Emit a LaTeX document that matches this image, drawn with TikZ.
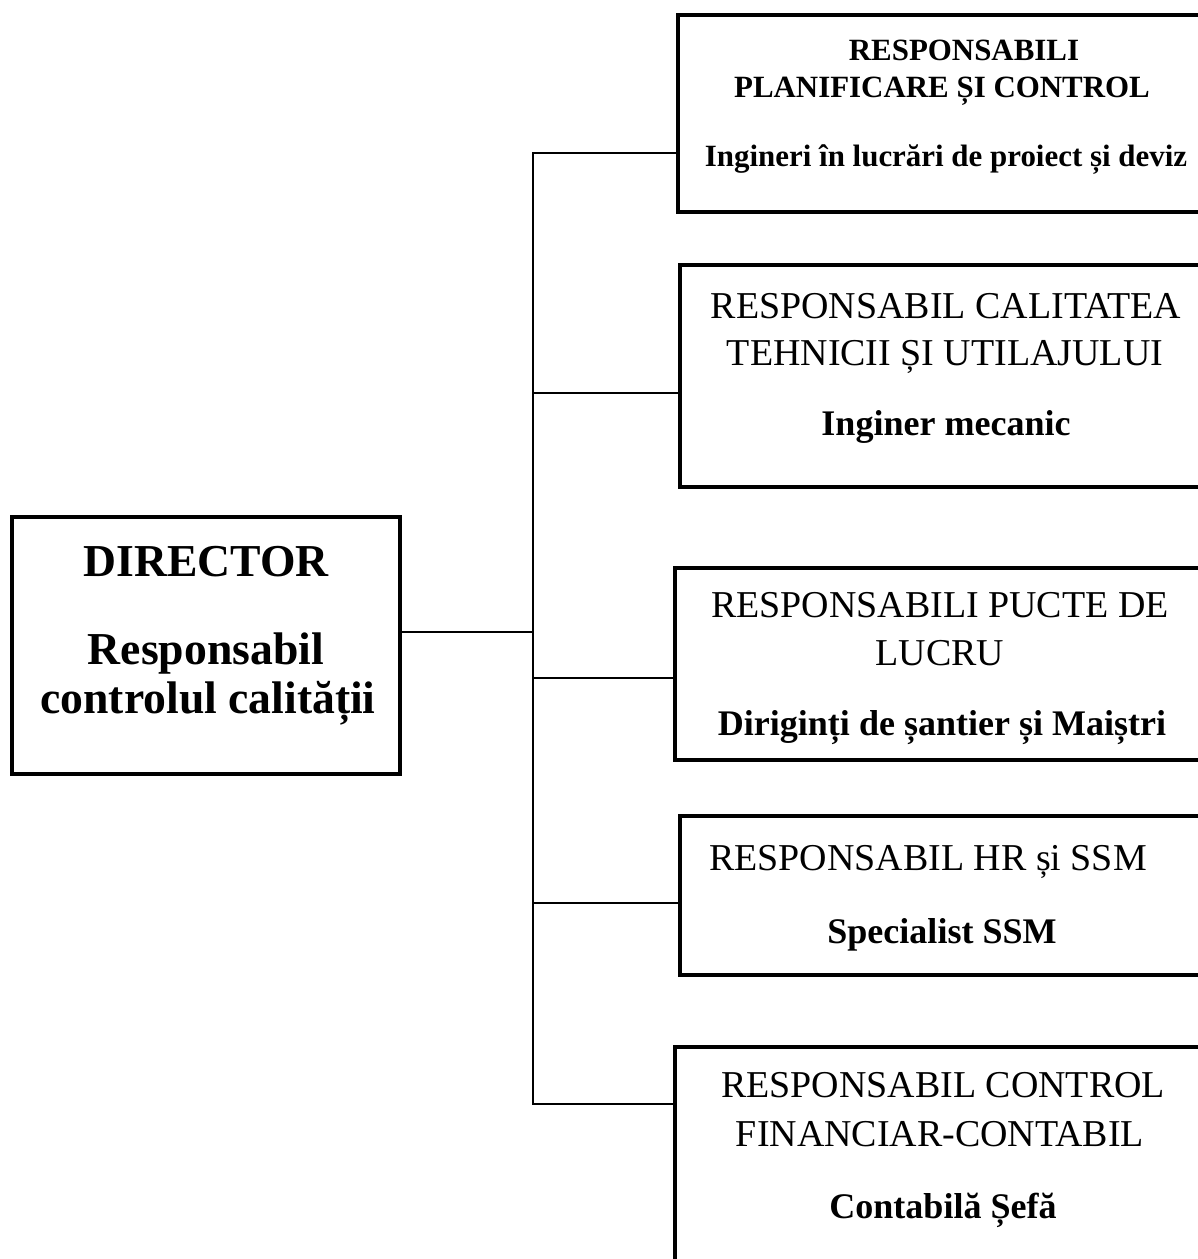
\documentclass[tikz,border=0pt]{standalone}
\usepackage{fontspec}
\setmainfont{Liberation Serif}
\usetikzlibrary{fit}
\begin{document}
\begin{tikzpicture}[x=0.02cm,y=-0.02cm,
  box/.style={draw, line width=2.3pt, inner sep=0pt},
  conn/.style={line width=1.1pt},
  txt/.style={anchor=base, inner sep=0pt},
  hdr/.style={txt, font=\fontsize{21.6}{24}\selectfont},
  sub/.style={txt, font=\fontsize{20.5}{24}\selectfont\bfseries},
  small/.style={txt, font=\fontsize{17.6}{20}\selectfont\bfseries},
  big/.style={txt, font=\fontsize{26}{30}\selectfont\bfseries}]
\useasboundingbox (0,0) rectangle (1198,1259);
\fill[white] (0,0) rectangle (1198,1259);

% boxes
\node[box, fit={(12,517) (400,774)}] (dir) {};
\node[box, fit={(678,15) (1215,212)}] (b1) {};
\node[box, fit={(680,265) (1215,487)}] (b2) {};
\node[box, fit={(675,568) (1215,760)}] (b3) {};
\node[box, fit={(680,816) (1215,975)}] (b4) {};
\node[box, fit={(675,1047) (1215,1290)}] (b5) {};

% texts
\node[big] (d1) at (206,576) {DIRECTOR};
\node[big] (d2) at (206,664) {Responsabil};
\node[big] (d3) at (208,713) {controlul calității};

\node[small] (t11) at (964,60) {RESPONSABILI};
\node[small] (t12) at (942,97) {PLANIFICARE ȘI CONTROL};
\node[small] (t13) at (946,166) {Ingineri în lucrări de proiect și deviz};

\node[hdr] (t21) at (946,318) {RESPONSABIL CALITATEA};
\node[hdr] (t22) at (945,365) {TEHNICII ȘI UTILAJULUI};
\node[sub] (t23) at (946,435) {Inginer mecanic};

\node[hdr] (t31) at (940,617) {RESPONSABILI PUCTE DE};
\node[hdr] (t32) at (940,665) {LUCRU};
\node[sub] (t33) at (942,735) {Diriginți de șantier și Maiștri};

\node[hdr] (t41) at (928,870) {RESPONSABIL HR și SSM};
\node[sub] (t42) at (942,943) {Specialist SSM};

\node[hdr] (t51) at (943,1097) {RESPONSABIL CONTROL};
\node[hdr] (t52) at (940,1146) {FINANCIAR-CONTABIL};
\node[sub] (t53) at (943,1218) {Contabilă Șefă};

% connectors
\coordinate (jd) at (533,632);
\coordinate (j1) at (533,153);
\coordinate (j2) at (533,393);
\coordinate (j3) at (533,678);
\coordinate (j4) at (533,903);
\coordinate (j5) at (533,1104);

\draw[conn] (jd -| dir.east) -- (jd);
\draw[conn] (j1 -| b1.west) -- (j1) -- (j5) -- (j5 -| b5.west);
\draw[conn] (j2) -- (j2 -| b2.west);
\draw[conn] (j3) -- (j3 -| b3.west);
\draw[conn] (j4) -- (j4 -| b4.west);
\end{tikzpicture}
\end{document}
